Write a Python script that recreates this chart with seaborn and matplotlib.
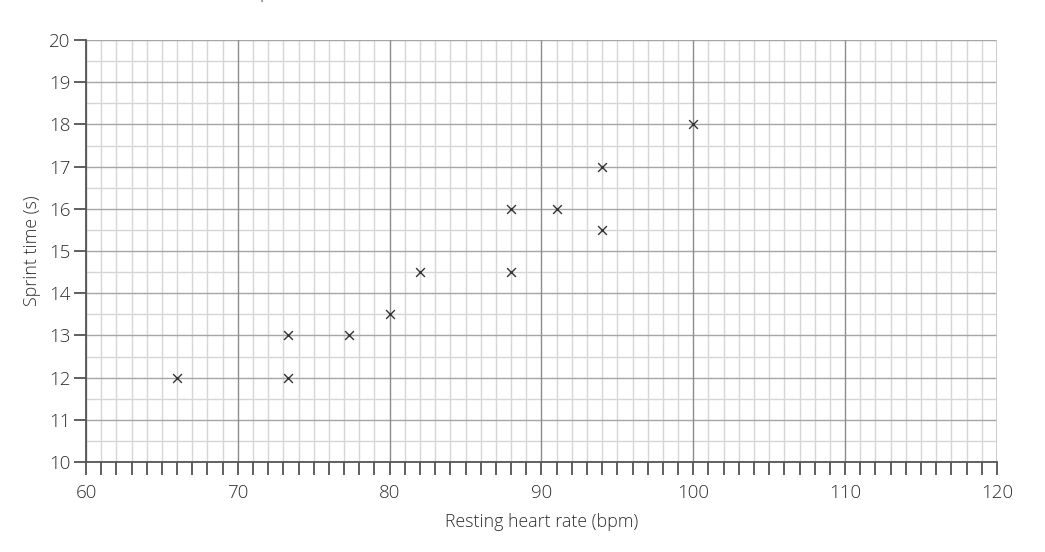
import matplotlib
matplotlib.use("Agg")
import matplotlib.pyplot as plt
import seaborn as sns
import numpy as np
import pandas as pd
from matplotlib.ticker import MultipleLocator

heart_rate = [66, 73.3, 73.3, 77.3, 80, 82, 88, 88, 91, 94, 94, 100]
sprint_time = [12, 13, 12, 13, 13.5, 14.5, 16, 14.5, 16, 17, 15.5, 18]
x_ticks = [60, 70, 80, 90, 100, 110, 120]
y_ticks = [10, 11, 12, 13, 14, 15, 16, 17, 18, 19, 20]

df = pd.DataFrame({"Resting heart rate (bpm)": heart_rate, "Sprint time (s)": sprint_time})

sns.set_theme(style="white")
plt.rcParams['font.family'] = ['Open Sans', 'DejaVu Sans']
plt.rcParams['font.weight'] = 300

TXT = "#2e2e2e"

fig = plt.figure(figsize=(10.45, 5.52), dpi=100)
ax = fig.add_axes([0.0823, 0.163, 0.8717, 0.7645])

# grid lines
for v in np.arange(60, 121, 1):
    if v % 10 == 0:
        ax.axvline(v, color="#8c8c8c", lw=1.0, zorder=1)
    else:
        ax.axvline(v, color="#d6d6d6", lw=1.0, zorder=0.5)
for v in np.arange(10, 20.01, 0.5):
    if float(v).is_integer():
        ax.axhline(v, color="#a6a6a6", lw=1.0, zorder=0.8)
    else:
        ax.axhline(v, color="#d6d6d6", lw=1.0, zorder=0.5)
ax.axvline(120, color="#c8c8c8", lw=1.2, zorder=1)

sns.scatterplot(data=df, x="Resting heart rate (bpm)", y="Sprint time (s)", marker="x",
                color="#333333", s=40, linewidth=1.0, ax=ax, zorder=3)

ax.set_xlim(60, 120)
ax.set_ylim(10, 20)
ax.set_xticks(x_ticks)
ax.xaxis.set_minor_locator(MultipleLocator(1))
ax.set_yticks(y_ticks)

for side in ["top", "right"]:
    ax.spines[side].set_visible(False)
ax.spines["left"].set_color("#555555")
ax.spines["bottom"].set_color("#555555")
ax.spines["left"].set_linewidth(1.3)
ax.spines["bottom"].set_linewidth(1.3)

ax.tick_params(axis="x", which="both", direction="out", length=9, width=1.2,
               color="#444444", bottom=True, labelsize=13.5, labelcolor=TXT, pad=7)
ax.tick_params(axis="y", which="major", direction="out", length=9, width=1.2,
               color="#444444", left=True, labelsize=13.5, labelcolor=TXT, pad=2)

ax.set_xlabel("Resting heart rate (bpm)", fontsize=12.8, color=TXT, labelpad=8, fontweight=300)
ax.set_ylabel("Sprint time (s)", fontsize=12.8, color=TXT, labelpad=6, fontweight=300)

fig.text(0.2535, 1.012, "p", fontsize=13, color=TXT, ha="center", va="center", fontweight=300)

fig.savefig("out.png", dpi=100)
